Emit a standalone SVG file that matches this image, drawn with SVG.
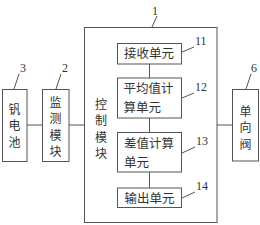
<svg xmlns="http://www.w3.org/2000/svg" width="260" height="225" viewBox="0 0 260 225">
<style>
.box{fill:none;stroke:#555;stroke-width:1}
.ln{fill:none;stroke:#555;stroke-width:1}
.t{font-family:"Noto Sans CJK SC","Noto Sans",sans-serif;font-size:12.5px;fill:#333}
.v{font-family:"Noto Sans CJK SC","Noto Sans",sans-serif;font-size:12px;fill:#333;text-anchor:middle}
.n{font-family:"Liberation Serif",serif;font-size:12px;fill:#333}
</style>
<rect width="260" height="225" fill="#fff"/>
<g id="connectors">
<line class="ln" x1="27" y1="125" x2="42" y2="125"/>
<line class="ln" x1="69" y1="125" x2="84.5" y2="125"/>
<line class="ln" x1="217" y1="125" x2="232" y2="125"/>
<line class="ln" x1="149.5" y1="64" x2="149.5" y2="78"/>
<line class="ln" x1="149.5" y1="118" x2="149.5" y2="132"/>
<line class="ln" x1="149.5" y1="172" x2="149.5" y2="188"/>
<line class="ln" x1="152" y1="27" x2="157" y2="16"/>
<line class="ln" x1="182" y1="52" x2="194" y2="47"/>
<line class="ln" x1="182" y1="98" x2="194" y2="93"/>
<line class="ln" x1="182" y1="153" x2="195" y2="147"/>
<line class="ln" x1="182" y1="198" x2="195" y2="192"/>
<line class="ln" x1="14" y1="89" x2="19" y2="74"/>
<line class="ln" x1="56" y1="89" x2="61" y2="74"/>
<line class="ln" x1="246" y1="89" x2="251" y2="74"/>
</g>
<g id="n1">
<rect class="box" x="84.5" y="27.5" width="132.5" height="195"/>
<text class="v" x="101" y="108.5">控</text>
<text class="v" x="101" y="125">制</text>
<text class="v" x="101" y="141.5">模</text>
<text class="v" x="101" y="158">块</text>
<text class="n" x="152" y="15">1</text>
</g>
<g id="n11">
<rect class="box" x="117.5" y="43.5" width="64" height="20.5"/>
<text class="t" x="124" y="58">接收单元</text>
<text class="n" x="195" y="45">11</text>
</g>
<g id="n12">
<rect class="box" x="117.5" y="78" width="64" height="40"/>
<text class="t" x="123.5" y="93">平均值计</text>
<text class="t" x="123.5" y="112">算单元</text>
<text class="n" x="195" y="91">12</text>
</g>
<g id="n13">
<rect class="box" x="117.5" y="132.5" width="64" height="39.5"/>
<text class="t" x="124" y="147.5">差值计算</text>
<text class="t" x="124" y="167">单元</text>
<text class="n" x="196" y="145">13</text>
</g>
<g id="n14">
<rect class="box" x="117.5" y="188" width="64" height="19.5"/>
<text class="t" x="124.5" y="202.5">输出单元</text>
<text class="n" x="196" y="190">14</text>
</g>
<g id="n3">
<rect class="box" x="2.5" y="89.5" width="24.5" height="72"/>
<text class="v" x="14.5" y="113.5">钒</text>
<text class="v" x="14.5" y="130">电</text>
<text class="v" x="14.5" y="146.5">池</text>
<text class="n" x="20" y="72">3</text>
</g>
<g id="n2">
<rect class="box" x="42.5" y="89.5" width="26.5" height="72"/>
<text class="v" x="55.5" y="106.5">监</text>
<text class="v" x="55.5" y="123">测</text>
<text class="v" x="55.5" y="139.5">模</text>
<text class="v" x="55.5" y="156">块</text>
<text class="n" x="62" y="72">2</text>
</g>
<g id="n6">
<rect class="box" x="232.5" y="89.5" width="26" height="71.5"/>
<text class="v" x="245.5" y="115.5">单</text>
<text class="v" x="245.5" y="132">向</text>
<text class="v" x="245.5" y="148.5">阀</text>
<text class="n" x="251" y="72">6</text>
</g>
</svg>
